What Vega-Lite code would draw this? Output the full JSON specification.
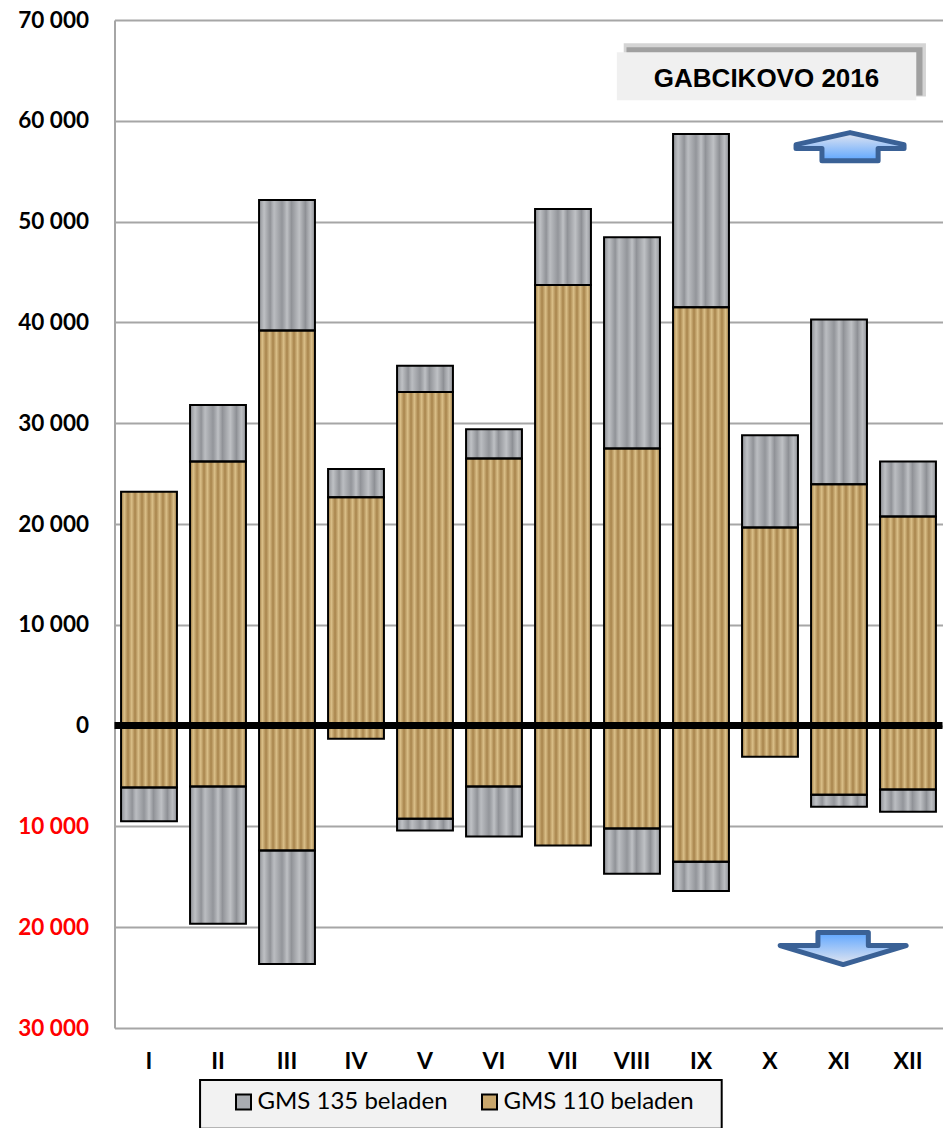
{
"$schema":"https://vega.github.io/schema/vega-lite/v6.json",
"width":828,"height":1008,
"autosize":"none",
"padding":{"left":114.5,"top":20,"right":2.5,"bottom":100},
"background":"white",
"config":{"view":{"stroke":null}},
"resolve":{"scale":{"x":"independent"}},
"layer":[
{
"data":{"values":[{"x":1.24,"x2":8.8,"y":-35160,"y2":-40000}]},
"mark":{"type":"rect","fill":"#f2f2f2","stroke":"black","strokeWidth":2,"clip":false},
"encoding":{"x":{"field":"x","type":"quantitative","scale":{"domain":[0,12]},"axis":null},"x2":{"field":"x2"},"y":{"field":"y","type":"quantitative"},"y2":{"field":"y2"}}
},
{
"data":{"values":[
{"month":"I","type":"GMS 110 beladen","value":23200},
{"month":"II","type":"GMS 110 beladen","value":26200},{"month":"II","type":"GMS 135 beladen","value":5600},
{"month":"III","type":"GMS 110 beladen","value":39200},{"month":"III","type":"GMS 135 beladen","value":12950},
{"month":"IV","type":"GMS 110 beladen","value":22650},{"month":"IV","type":"GMS 135 beladen","value":2800},
{"month":"V","type":"GMS 110 beladen","value":33100},{"month":"V","type":"GMS 135 beladen","value":2600},
{"month":"VI","type":"GMS 110 beladen","value":26500},{"month":"VI","type":"GMS 135 beladen","value":2900},
{"month":"VII","type":"GMS 110 beladen","value":43700},{"month":"VII","type":"GMS 135 beladen","value":7550},
{"month":"VIII","type":"GMS 110 beladen","value":27500},{"month":"VIII","type":"GMS 135 beladen","value":20950},
{"month":"IX","type":"GMS 110 beladen","value":41500},{"month":"IX","type":"GMS 135 beladen","value":17200},
{"month":"X","type":"GMS 110 beladen","value":19650},{"month":"X","type":"GMS 135 beladen","value":9150},
{"month":"XI","type":"GMS 110 beladen","value":23950},{"month":"XI","type":"GMS 135 beladen","value":16350},
{"month":"XII","type":"GMS 110 beladen","value":20750},{"month":"XII","type":"GMS 135 beladen","value":5450},
{"month":"I","type":"GMS 110 beladen","value":-6150},{"month":"I","type":"GMS 135 beladen","value":-3350},
{"month":"II","type":"GMS 110 beladen","value":-6050},{"month":"II","type":"GMS 135 beladen","value":-13600},
{"month":"III","type":"GMS 110 beladen","value":-12400},{"month":"III","type":"GMS 135 beladen","value":-11250},
{"month":"IV","type":"GMS 110 beladen","value":-1300},
{"month":"V","type":"GMS 110 beladen","value":-9250},{"month":"V","type":"GMS 135 beladen","value":-1150},
{"month":"VI","type":"GMS 110 beladen","value":-6050},{"month":"VI","type":"GMS 135 beladen","value":-4950},
{"month":"VII","type":"GMS 110 beladen","value":-11900},
{"month":"VIII","type":"GMS 110 beladen","value":-10200},{"month":"VIII","type":"GMS 135 beladen","value":-4500},
{"month":"IX","type":"GMS 110 beladen","value":-13500},{"month":"IX","type":"GMS 135 beladen","value":-2900},
{"month":"X","type":"GMS 110 beladen","value":-3100},
{"month":"XI","type":"GMS 110 beladen","value":-6850},{"month":"XI","type":"GMS 135 beladen","value":-1200},
{"month":"XII","type":"GMS 110 beladen","value":-6350},{"month":"XII","type":"GMS 135 beladen","value":-2200}
]},
"transform":[{"stack":"value","groupby":["month"],"sort":[{"field":"type","order":"ascending"}],"offset":"zero","as":["y0","y1"]}],
"encoding":{
"x":{"field":"month","type":"nominal","sort":["I","II","III","IV","V","VI","VII","VIII","IX","X","XI","XII"],
"scale":{"paddingInner":0.19,"paddingOuter":0.095},
"axis":{"title":null,"labelAngle":0,"labelFont":"Lato","labelFontWeight":"bold","labelFontSize":23,"labelColor":"black","labelPadding":22,"ticks":false,"domain":false}},
"y":{"field":"y0","type":"quantitative",
"scale":{"domain":[-30000,70000],"nice":false},
"axis":{"title":null,"values":[-30000,-20000,-10000,0,10000,20000,30000,40000,50000,60000,70000],
"labelExpr":"replace(format(abs(datum.value),','),',',' ')",
"labelFont":"Lato","labelFontWeight":"bold","labelFontSize":22.5,"labelPadding":26,
"labelColor":{"condition":{"test":"datum.value<0","value":"#ff0000"},"value":"black"},
"ticks":false,"grid":true,"gridColor":"#a6a6a6","gridWidth":2,"domainColor":"#a6a6a6","domainWidth":2}},
"y2":{"field":"y1"}
},
"layer":[
{
"mark":{"type":"bar"},
"encoding":{
"color":{"field":"type","type":"nominal",
"scale":{"domain":["GMS 135 beladen","GMS 110 beladen"],"range":["#a9acb1","#c9a76c"]},
"legend":{"title":null,"orient":"none","legendX":117,"legendY":1070,"direction":"horizontal","columns":2,"symbolType":"square","symbolSize":225,"symbolStrokeColor":"black","symbolStrokeWidth":2,"labelFont":"Lato","labelFontSize":24,"labelColor":"black","padding":0,"columnPadding":29,"labelOffset":2,"labelLimit":300,"zindex":1}}
}
},
{
"transform":[{"filter":"datum.type==='GMS 110 beladen'"}],
"mark":{"type":"bar","fill":{"x1":0,"y1":0,"x2":1,"y2":0,"gradient":"linear","stops":[
{"offset":0,"color":"rgba(90,50,0,0.3)"},{"offset":0.06,"color":"rgba(255,245,200,0.3)"},{"offset":0.125,"color":"rgba(90,50,0,0.3)"},{"offset":0.19,"color":"rgba(255,245,200,0.3)"},{"offset":0.25,"color":"rgba(90,50,0,0.3)"},{"offset":0.31,"color":"rgba(255,245,200,0.3)"},{"offset":0.375,"color":"rgba(90,50,0,0.3)"},{"offset":0.44,"color":"rgba(255,245,200,0.3)"},{"offset":0.5,"color":"rgba(90,50,0,0.3)"},{"offset":0.56,"color":"rgba(255,245,200,0.3)"},{"offset":0.625,"color":"rgba(90,50,0,0.3)"},{"offset":0.69,"color":"rgba(255,245,200,0.3)"},{"offset":0.75,"color":"rgba(90,50,0,0.3)"},{"offset":0.81,"color":"rgba(255,245,200,0.3)"},{"offset":0.875,"color":"rgba(90,50,0,0.3)"},{"offset":0.94,"color":"rgba(255,245,200,0.3)"},{"offset":1,"color":"rgba(90,50,0,0.3)"}]}}
},
{
"transform":[{"filter":"datum.type==='GMS 135 beladen'"}],
"mark":{"type":"bar","fill":{"x1":0,"y1":0,"x2":1,"y2":0,"gradient":"linear","stops":[
{"offset":0,"color":"rgba(60,60,65,0.25)"},{"offset":0.09,"color":"rgba(255,255,255,0.25)"},{"offset":0.2,"color":"rgba(70,70,75,0.25)"},{"offset":0.27,"color":"rgba(255,255,255,0.2)"},{"offset":0.41,"color":"rgba(60,60,65,0.2)"},{"offset":0.5,"color":"rgba(255,255,255,0.25)"},{"offset":0.58,"color":"rgba(70,70,75,0.25)"},{"offset":0.72,"color":"rgba(255,255,255,0.25)"},{"offset":0.83,"color":"rgba(60,60,65,0.25)"},{"offset":0.92,"color":"rgba(255,255,255,0.2)"},{"offset":1,"color":"rgba(70,70,75,0.25)"}]}}
},
{
"mark":{"type":"bar","fill":"transparent","stroke":"black","strokeWidth":2}
}
]
},
{
"data":{"values":[{"v":0}]},
"mark":{"type":"rule","color":"black","strokeWidth":7},
"encoding":{"y":{"field":"v","type":"quantitative"}}
},
{
"data":{"values":[{"x":7.38,"x2":11.76,"y":62400,"y2":67700}]},
"mark":{"type":"rect","fill":"#d4d4d4"},
"encoding":{"x":{"field":"x","type":"quantitative","scale":{"domain":[0,12]},"axis":null},"x2":{"field":"x2"},"y":{"field":"y","type":"quantitative"},"y2":{"field":"y2"}}
},
{
"data":{"values":[{"x":7.42,"x2":11.71,"y":62500,"y2":67300}]},
"mark":{"type":"rect","fill":"#a0a0a0"},
"encoding":{"x":{"field":"x","type":"quantitative","scale":{"domain":[0,12]},"axis":null},"x2":{"field":"x2"},"y":{"field":"y","type":"quantitative"},"y2":{"field":"y2"}}
},
{
"data":{"values":[{"x":7.28,"x2":11.62,"y":62050,"y2":66800}]},
"mark":{"type":"rect","fill":"#f0f0f0"},
"encoding":{"x":{"field":"x","type":"quantitative","scale":{"domain":[0,12]},"axis":null},"x2":{"field":"x2"},"y":{"field":"y","type":"quantitative"},"y2":{"field":"y2"}}
},
{
"data":{"values":[{"x":9.45,"y":64100,"t":"GABCIKOVO 2016"}]},
"mark":{"type":"text","font":"Liberation Sans","fontWeight":"bold","fontSize":26,"color":"black","align":"center","baseline":"middle"},
"encoding":{"x":{"field":"x","type":"quantitative","scale":{"domain":[0,12]},"axis":null},"y":{"field":"y","type":"quantitative"},"text":{"field":"t"}}
},
{
"data":{"values":[{"x":10.66,"y":57440}]},
"mark":{"type":"point","filled":true,"size":46656,"opacity":1,"strokeWidth":5,"stroke":"#3a6196","strokeJoin":"round",
"shape":"M0,-0.13 L0.5,-0.018 L0.5,0.018 L0.26,0.018 L0.26,0.13 L-0.26,0.13 L-0.26,0.018 L-0.5,0.018 L-0.5,-0.018 Z",
"fill":{"x1":0,"y1":0,"x2":0,"y2":1,"gradient":"linear","stops":[{"offset":0,"color":"#e3e6f0"},{"offset":1,"color":"#5ea6ff"}]}},
"encoding":{"x":{"field":"x","type":"quantitative","scale":{"domain":[0,12]},"axis":null},"y":{"field":"y","type":"quantitative"}}
},
{
"data":{"values":[{"x":10.56,"y":-22120}]},
"mark":{"type":"point","filled":true,"size":63504,"opacity":1,"strokeWidth":5,"stroke":"#3a6196","strokeJoin":"round",
"shape":"M0,0.127 L0.5,-0.024 L0.2,-0.024 L0.2,-0.127 L-0.2,-0.127 L-0.2,-0.024 L-0.5,-0.024 Z",
"fill":{"x1":0,"y1":0,"x2":0,"y2":1,"gradient":"linear","stops":[{"offset":0,"color":"#5ea6ff"},{"offset":1,"color":"#e3e6f0"}]}},
"encoding":{"x":{"field":"x","type":"quantitative","scale":{"domain":[0,12]},"axis":null},"y":{"field":"y","type":"quantitative"}}
}
]
}
